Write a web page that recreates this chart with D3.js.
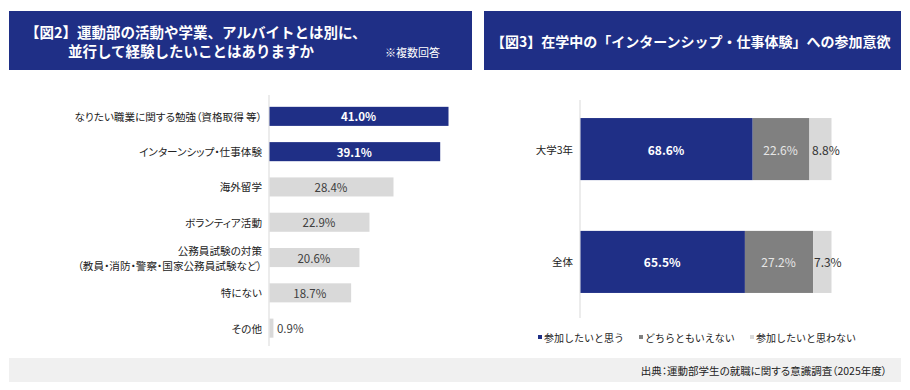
<!DOCTYPE html>
<html>
<head>
<meta charset="utf-8">
<script src="https://cdn.jsdelivr.net/npm/d3@7"></script>
<style>
  body { margin: 0; background: #fff; }
  svg text { font-family: "Noto Sans CJK JP", "Noto Sans", sans-serif; }
  .palt { font-feature-settings: "palt"; }
</style>
</head>
<body>
<div id="chart"></div>
<script>
// Figure 2 data
const fig2Labels = [
  ['なりたい職業に関する勉強（資格取得 等）'],
  ['インターンシップ・仕事体験'],
  ['海外留学'],
  ['ボランティア活動'],
  ['公務員試験の対策', '（教員・消防・警察・国家公務員試験など）'],
  ['特にない'],
  ['その他']
];
const fig2Values = [41.0, 39.1, 28.4, 22.9, 20.6, 18.7, 0.9];
const fig2Highlight = [true, true, false, false, false, false, false];

// Figure 3 data
const fig3Groups = ['大学3年', '全体'];
const fig3Series = ['参加したいと思う', 'どちらともいえない', '参加したいと思わない'];
const fig3Want = [68.6, 65.5];
const fig3Neutral = [22.6, 27.2];
const fig3NotWant = [8.8, 7.3];

const blue = '#1f2f86';
const midGray = '#808080';
const lightGray = '#d9d9d9';

const svg = d3.select('#chart').append('svg')
  .attr('width', 910)
  .attr('height', 390);

// Header boxes
svg.append('rect').attr('x', 9).attr('y', 11).attr('width', 463).attr('height', 59).attr('fill', blue);
svg.append('rect').attr('x', 484).attr('y', 11).attr('width', 417).attr('height', 59).attr('fill', blue);

svg.append('text')
  .attr('x', 25).attr('y', 38)
  .attr('fill', '#fff').attr('font-size', '14.5px').attr('font-weight', 'bold')
  .text('【図2】運動部の活動や学業、アルバイトとは別に、');
svg.append('text')
  .attr('x', 68).attr('y', 57)
  .attr('fill', '#fff').attr('font-size', '14.5px').attr('font-weight', 'bold')
  .text('並行して経験したいことはありますか');
svg.append('text')
  .attr('x', 385).attr('y', 57)
  .attr('fill', '#fff').attr('font-size', '11px')
  .text('※複数回答');

svg.append('text')
  .attr('x', 491).attr('y', 47)
  .attr('fill', '#fff').attr('font-size', '14px').attr('font-weight', 'bold')
  .text('【図3】在学中の「インターンシップ・仕事体験」への参加意欲');

// ---- Figure 2: horizontal bars
const x2 = d3.scaleLinear().domain([0, 41.0]).range([269, 448]);
const y2 = d3.scaleBand()
  .domain(fig2Values.map((d, i) => i))
  .range([98, 346.5])
  .paddingInner(0.46)
  .paddingOuter(0.25);

svg.append('line')
  .attr('x1', 269).attr('x2', 269)
  .attr('y1', 95).attr('y2', 346)
  .attr('stroke', '#d9d9d9').attr('stroke-width', 1);

const g2 = svg.append('g');
fig2Values.forEach((v, i) => {
  const yTop = y2(i);
  const bw = y2.bandwidth();
  g2.append('rect')
    .attr('x', x2(0) + 0.5)
    .attr('y', yTop)
    .attr('width', x2(v) - x2(0))
    .attr('height', bw)
    .attr('fill', fig2Highlight[i] ? blue : lightGray);

  const inside = v > 5;
  g2.append('text')
    .attr('x', inside ? (x2(0) + x2(v)) / 2 : x2(v) + 4)
    .attr('y', yTop + bw / 2)
    .attr('text-anchor', inside ? 'middle' : 'start')
    .attr('dominant-baseline', 'central')
    .attr('font-size', '11.5px')
    .attr('fill', fig2Highlight[i] ? '#fff' : '#404040')
    .attr('font-weight', fig2Highlight[i] ? 'bold' : 'normal')
    .text(v.toFixed(1) + '%');

  const lines = fig2Labels[i];
  lines.forEach((line, j) => {
    g2.append('text')
      .attr('class', 'palt')
      .attr('x', 262)
      .attr('y', yTop + bw / 2 + (j - (lines.length - 1) / 2) * 15)
      .attr('text-anchor', 'end')
      .attr('dominant-baseline', 'central')
      .attr('font-size', '10.6px')
      .attr('fill', '#222')
      .text(line);
  });
});

// ---- Figure 3: stacked bars
const x3 = d3.scaleLinear().domain([0, 100]).range([580, 831]);
const y3 = d3.scaleBand()
  .domain(fig3Groups)
  .range([100, 311])
  .paddingInner(0.45)
  .paddingOuter(0.16);

const stackRows = fig3Groups.map((g, i) => ({
  group: g, want: fig3Want[i], neutral: fig3Neutral[i], notWant: fig3NotWant[i]
}));
const stack = d3.stack().keys(['want', 'neutral', 'notWant'])(stackRows);
const seriesColors = [blue, midGray, lightGray];
const labelColors = ['#fff', '#e6e6e6', '#333'];
const labelDx = [0, 0, 6];

svg.append('line')
  .attr('x1', 580).attr('x2', 580)
  .attr('y1', 100).attr('y2', 318)
  .attr('stroke', '#d9d9d9').attr('stroke-width', 1);

const g3 = svg.append('g');
stack.forEach((layer, k) => {
  layer.forEach(d => {
    const yTop = y3(d.data.group);
    const bw = y3.bandwidth();
    g3.append('rect')
      .attr('x', x3(d[0]) + 0.5)
      .attr('y', yTop)
      .attr('width', x3(d[1]) - x3(d[0]))
      .attr('height', bw)
      .attr('fill', seriesColors[k]);
    g3.append('text')
      .attr('x', (x3(d[0]) + x3(d[1])) / 2 + labelDx[k])
      .attr('y', yTop + bw / 2)
      .attr('text-anchor', 'middle')
      .attr('dominant-baseline', 'central')
      .attr('font-size', '12px')
      .attr('fill', labelColors[k])
      .attr('font-weight', k === 0 ? 'bold' : 'normal')
      .text((d[1] - d[0]).toFixed(1) + '%');
  });
});

fig3Groups.forEach(g => {
  svg.append('text')
    .attr('x', 573)
    .attr('y', y3(g) + y3.bandwidth() / 2)
    .attr('text-anchor', 'end')
    .attr('dominant-baseline', 'central')
    .attr('font-size', '10.5px')
    .attr('fill', '#222')
    .text(g);
});

// Legend
const legendX = [538, 639, 750];
fig3Series.forEach((s, k) => {
  svg.append('rect')
    .attr('x', legendX[k]).attr('y', 335)
    .attr('width', 4).attr('height', 4)
    .attr('fill', seriesColors[k]);
  svg.append('text')
    .attr('x', legendX[k] + 6).attr('y', 337)
    .attr('dominant-baseline', 'central')
    .attr('font-size', '10px')
    .attr('fill', '#222')
    .text(s);
});

// Source band
svg.append('rect')
  .attr('x', 9).attr('y', 358)
  .attr('width', 892).attr('height', 24)
  .attr('fill', '#f0f0f0');
svg.append('text')
  .attr('class', 'palt')
  .attr('x', 887).attr('y', 370)
  .attr('text-anchor', 'end')
  .attr('dominant-baseline', 'central')
  .attr('font-size', '10.5px')
  .attr('fill', '#222')
  .text('出典：運動部学生の就職に関する意識調査（2025年度）');
</script>
</body>
</html>
